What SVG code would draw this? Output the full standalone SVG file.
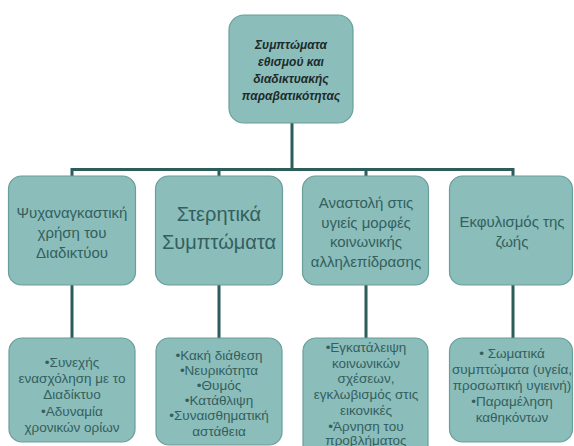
<svg xmlns="http://www.w3.org/2000/svg" width="574" height="446" viewBox="0 0 574 446">
<style>
.box{fill:#8bbdbb;stroke:#6a9e9a;stroke-width:1.2}
.t{font-family:"Liberation Sans",Arial,sans-serif;fill:#33605d;text-anchor:middle}
.top{font-family:"Liberation Sans",Arial,sans-serif;fill:#1e2b2a;text-anchor:middle;font-weight:bold;font-style:italic;font-size:12px}
.m{font-size:15px}
.b{font-size:13.5px}
.con{stroke:#2b5d5b;stroke-width:3;fill:none}
</style>
<rect width="574" height="446" fill="#ffffff"/>
<g id="connectors">
<path class="con" d="M292 123 V169.5 M72 176 V169.5 H513 V176 M219 169.5 V176 M366 169.5 V176"/>
<path class="con" d="M72 285 V338 M219 285 V338 M366 285 V338 M513 285 V338"/>
</g>
<g id="root">
<rect class="box" x="229" y="15" width="124" height="108" rx="15"/>
<text class="top" x="291" y="48.5">Συμπτώματα</text>
<text class="top" x="291" y="65.5">εθισμού και</text>
<text class="top" x="291" y="82.5">διαδικτυακής</text>
<text class="top" x="291" y="99.5">παραβατικότητας</text>
</g>
<g id="n1">
<rect class="box" x="8.5" y="176" width="127" height="109" rx="13"/>
<text class="t m" x="72" y="218">Ψυχαναγκαστική</text>
<text class="t m" x="72" y="238">χρήση του</text>
<text class="t m" x="72" y="258">Διαδικτύου</text>
</g>
<g id="n2">
<rect class="box" x="155.5" y="176" width="127" height="109" rx="13"/>
<text class="t" x="219" y="221" font-size="20">Στερητικά</text>
<text class="t" x="219" y="249" font-size="20">Συμπτώματα</text>
</g>
<g id="n3">
<rect class="box" x="302.5" y="176" width="126" height="109" rx="13"/>
<text class="t m" x="366" y="208">Αναστολή στις</text>
<text class="t m" x="366" y="227.5">υγιείς μορφές</text>
<text class="t m" x="366" y="247">κοινωνικής</text>
<text class="t m" x="366" y="266.5">αλληλεπίδρασης</text>
</g>
<g id="n4">
<rect class="box" x="449.5" y="176" width="123" height="109" rx="13"/>
<text class="t m" x="512" y="227">Εκφυλισμός της</text>
<text class="t m" x="512" y="247">ζωής</text>
</g>
<g id="b1">
<rect class="box" x="9" y="338" width="126" height="104" rx="13"/>
<text class="t b" x="72" y="367">•Συνεχής</text>
<text class="t b" x="72" y="383">ενασχόληση με το</text>
<text class="t b" x="72" y="399">Διαδίκτυο</text>
<text class="t b" x="72" y="416">•Αδυναμία</text>
<text class="t b" x="72" y="432">χρονικών ορίων</text>
</g>
<g id="b2">
<rect class="box" x="156" y="338" width="126" height="107" rx="13"/>
<text class="t b" x="219" y="360">•Κακή διάθεση</text>
<text class="t b" x="219" y="375">•Νευρικότητα</text>
<text class="t b" x="219" y="390">•Θυμός</text>
<text class="t b" x="219" y="405">•Κατάθλιψη</text>
<text class="t b" x="219" y="420">•Συναισθηματική</text>
<text class="t b" x="219" y="436">αστάθεια</text>
</g>
<g id="b3">
<rect class="box" x="303" y="338" width="125" height="120" rx="13"/>
<text class="t b" x="366" y="352">•Εγκατάλειψη</text>
<text class="t b" x="366" y="367.5">κοινωνικών</text>
<text class="t b" x="366" y="383">σχέσεων,</text>
<text class="t b" x="366" y="399">εγκλωβισμός στις</text>
<text class="t b" x="366" y="415">εικονικές</text>
<text class="t b" x="366" y="430.5">•Άρνηση του</text>
<text class="t b" x="366" y="444.5">προβλήματος</text>
</g>
<g id="b4">
<rect class="box" x="449.5" y="338" width="123" height="104" rx="13"/>
<text class="t b" x="512" y="358">• Σωματικά</text>
<text class="t b" x="512" y="374">συμπτώματα (υγεία,</text>
<text class="t b" x="512" y="390">προσωπική υγιεινή)</text>
<text class="t b" x="512" y="406">•Παραμέληση</text>
<text class="t b" x="512" y="422">καθηκόντων</text>
</g>
</svg>
